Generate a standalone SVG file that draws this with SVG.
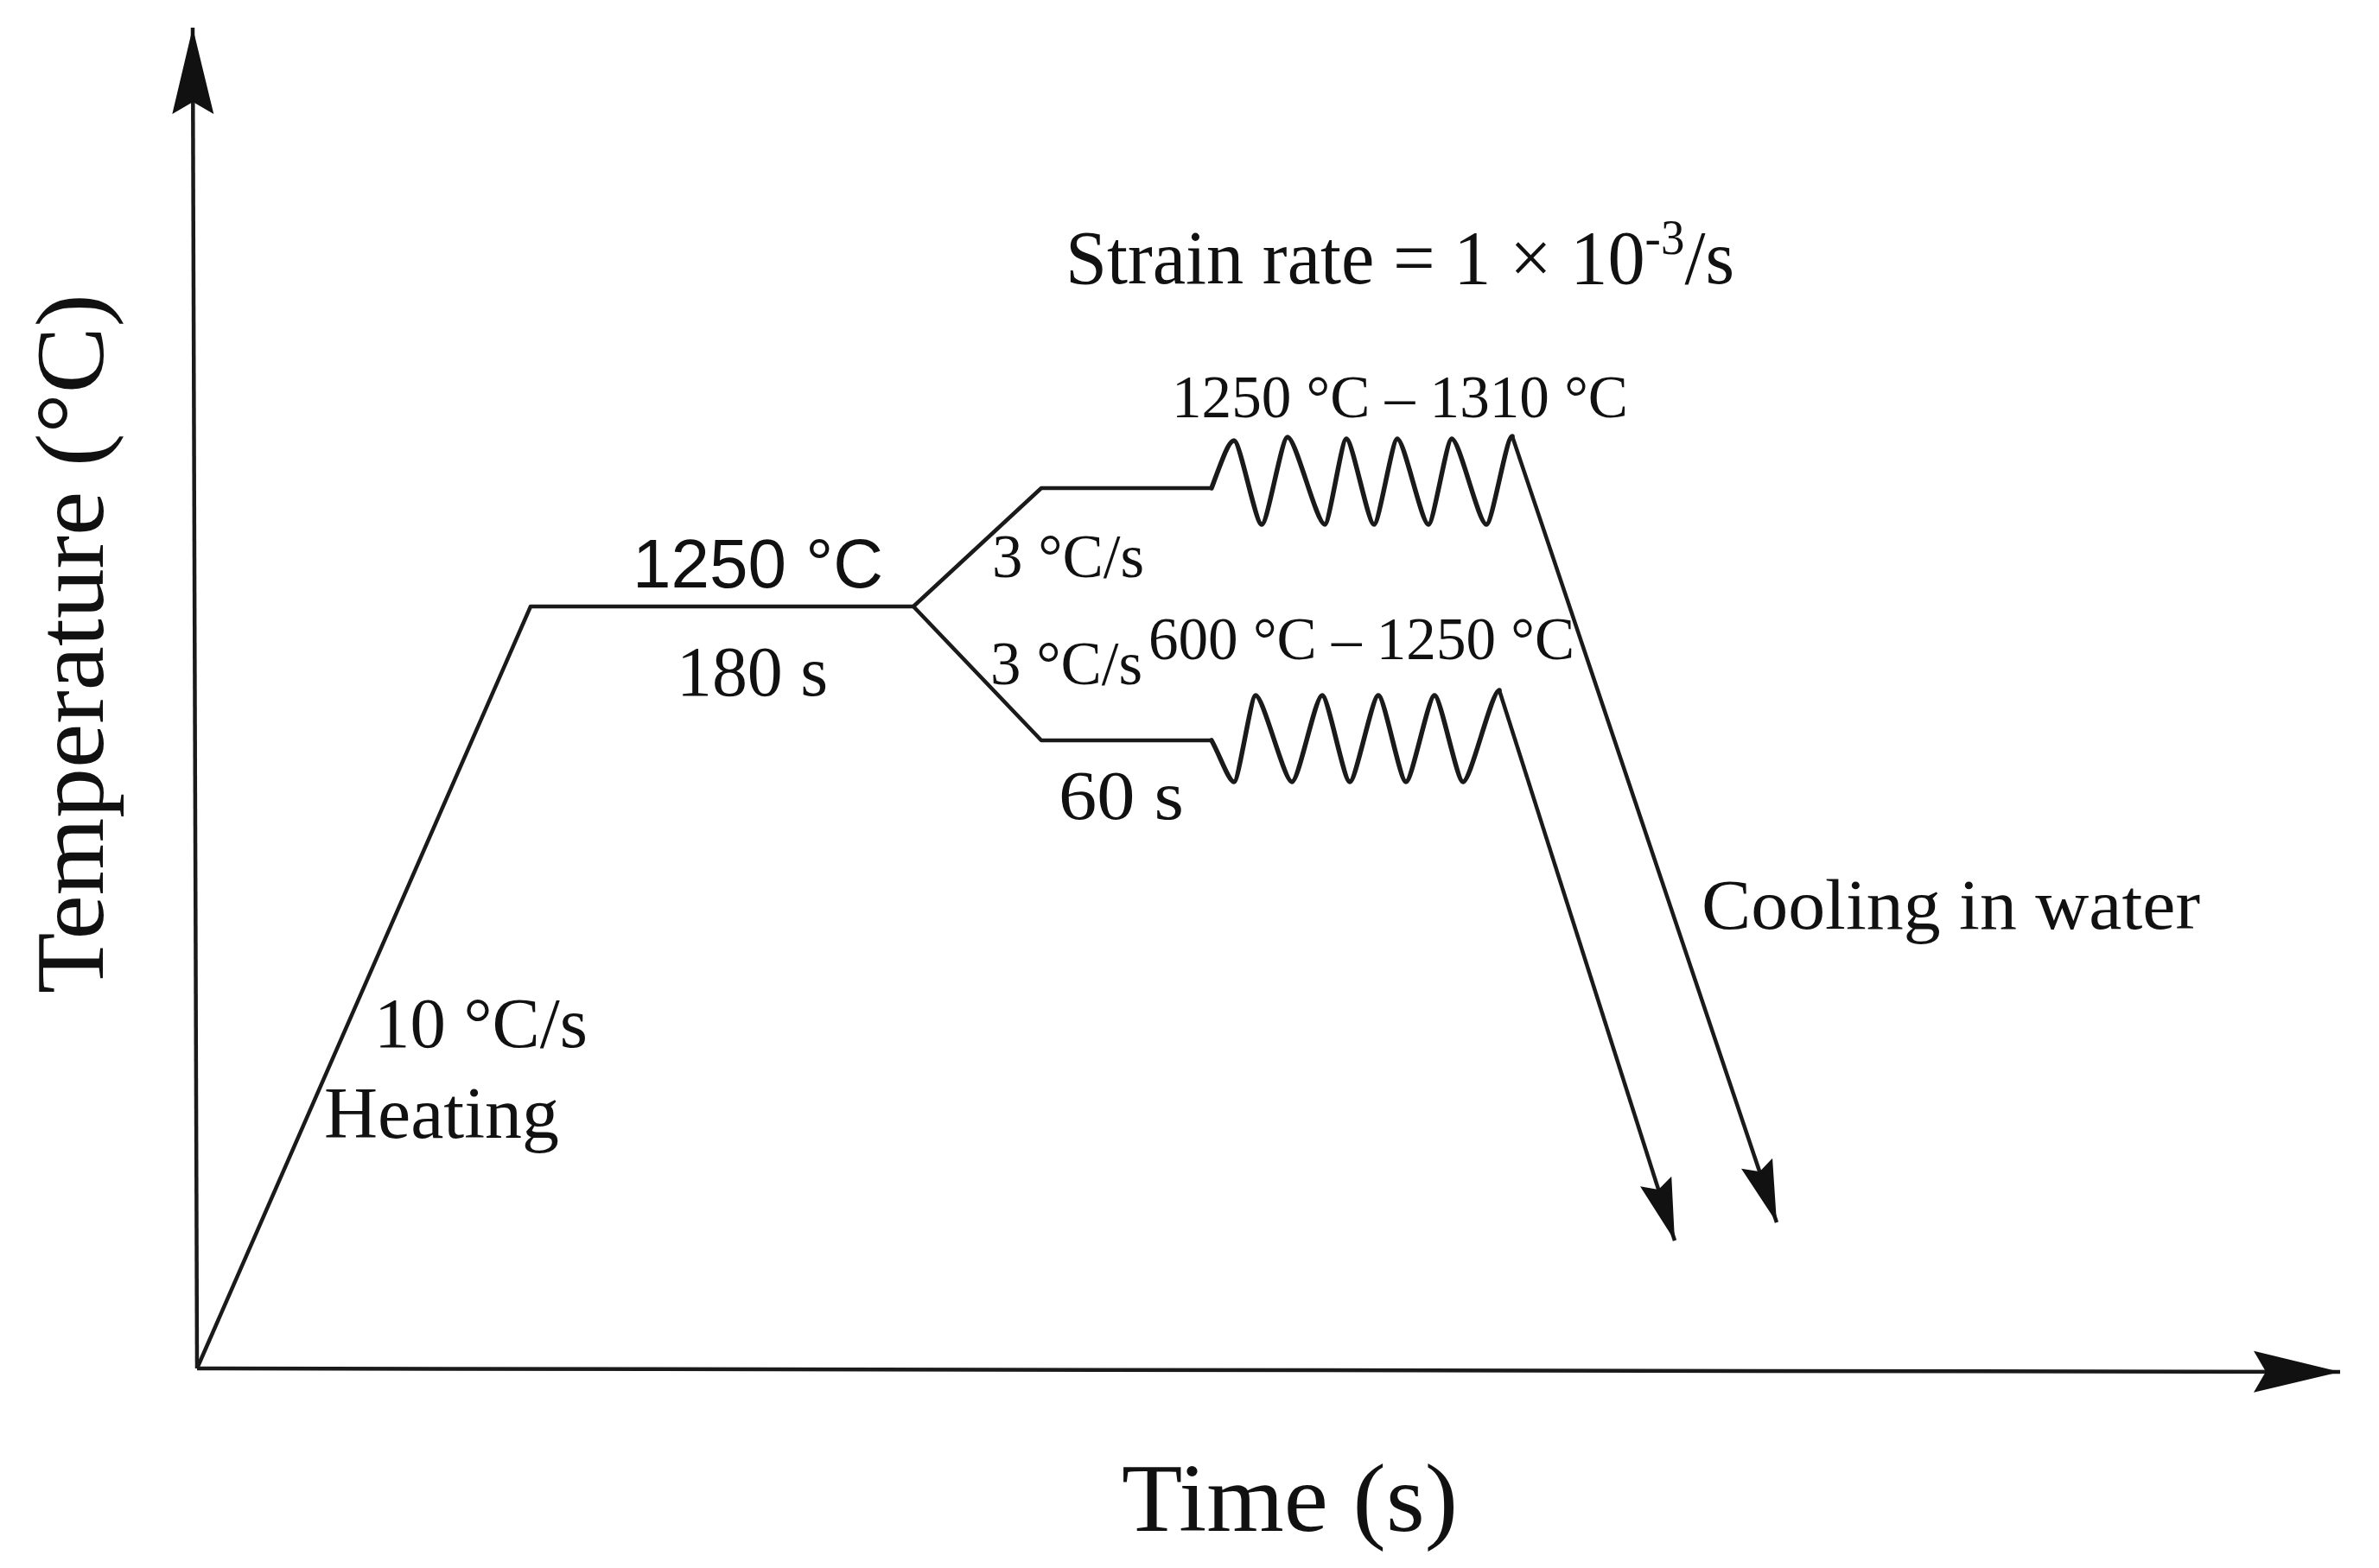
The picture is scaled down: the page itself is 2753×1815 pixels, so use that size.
<svg xmlns="http://www.w3.org/2000/svg" width="2753" height="1815" viewBox="0 0 2753 1815">
<style>
.ln{fill:none;stroke:#1a1a1a;stroke-width:4.5;stroke-linejoin:round;stroke-linecap:butt}
.wv{fill:none;stroke:#1a1a1a;stroke-width:5.5;stroke-linejoin:round;stroke-linecap:round}
.serif{font-family:"Liberation Serif","Times New Roman",serif;fill:#111}
.sans{font-family:"Liberation Sans",Arial,sans-serif;fill:#111}
</style>
<defs>
<marker id="axisHead" markerUnits="userSpaceOnUse" viewBox="-110 -30 120 60" refX="0" refY="0" markerWidth="120" markerHeight="60" orient="auto">
<path d="M0,0 L-100,-24 L-86,0 L-100,24 Z" fill="#111"/>
</marker>
<marker id="coolHead" markerUnits="userSpaceOnUse" viewBox="-80 -25 90 50" refX="0" refY="0" markerWidth="90" markerHeight="50" orient="auto">
<path d="M0,0 L-72,-19 L-62,0 L-72,19 Z" fill="#111"/>
</marker>
</defs>
<rect width="2753" height="1815" fill="#fff"/>

<g id="axes">
<line class="ln" x1="228" y1="1584" x2="223" y2="32" marker-end="url(#axisHead)"/>
<line class="ln" x1="228" y1="1584" x2="2708" y2="1588" marker-end="url(#axisHead)"/>
</g>

<g id="connectors">
<polyline id="heating-hold" class="ln" points="228,1584 614,702 1057,702"/>
<polyline id="upper-branch" class="ln" points="1057,702 1205,565 1402,565"/>
<polyline id="lower-branch" class="ln" points="1057,702 1205,857 1402,857"/>
<path id="upper-wave" class="wv" d="M1402,565 C1415,530 1422,510 1428,510 C1435,510 1453,607 1460,607 C1467,607 1483,506 1490,506 C1499.5,506 1523.5,607 1533,607 C1538.5,607 1552.5,508 1558,508 C1565,508 1583,607 1590,607 C1596,607 1611,508 1617,508 C1625,508 1645,607 1653,607 C1659,607 1674,508 1680,508 C1689,508 1711,607 1720,607 C1727,607 1743,505 1750,505"/>
<path id="lower-wave" class="wv" d="M1402,857 C1412,875 1422,905 1428,905 C1433.5,905 1447.5,805 1453,805 C1462,805 1486,905 1495,905 C1503,905 1522,805 1530,805 C1537,805 1555,905 1562,905 C1569,905 1588,805 1595,805 C1602,805 1620,905 1627,905 C1634,905 1653,805 1660,805 C1667,805 1686,905 1693,905 C1702,905 1726,799 1735,799"/>
<line id="upper-cool" class="ln" x1="1750" y1="505" x2="2056" y2="1415" marker-end="url(#coolHead)"/>
<line id="lower-cool" class="ln" x1="1735" y1="799" x2="1938" y2="1436" marker-end="url(#coolHead)"/>
</g>

<g id="labels">
<text class="serif" x="1233" y="328" font-size="88" textLength="774" lengthAdjust="spacingAndGlyphs">Strain rate = 1 × 10<tspan font-size="56" dy="-34">-3</tspan><tspan dy="34">/s</tspan></text>
<text class="serif" x="1356" y="483" font-size="70" textLength="528" lengthAdjust="spacingAndGlyphs">1250 °C – 1310 °C</text>
<text class="sans" x="732" y="680" font-size="80" textLength="290" lengthAdjust="spacingAndGlyphs">1250 °C</text>
<text class="serif" x="783" y="805" font-size="82" textLength="175" lengthAdjust="spacingAndGlyphs">180 s</text>
<text class="serif" x="1148" y="668" font-size="72" textLength="176" lengthAdjust="spacingAndGlyphs">3 °C/s</text>
<text class="serif" x="1146" y="792" font-size="72" textLength="176" lengthAdjust="spacingAndGlyphs">3 °C/s</text>
<text class="serif" x="1329" y="763" font-size="70" textLength="493" lengthAdjust="spacingAndGlyphs">600 °C – 1250 °C</text>
<text class="serif" x="1225" y="948" font-size="80" textLength="145" lengthAdjust="spacingAndGlyphs">60 s</text>
<text class="serif" x="1969" y="1075" font-size="83" textLength="577" lengthAdjust="spacingAndGlyphs">Cooling in water</text>
<text class="serif" x="433" y="1212" font-size="83" textLength="247" lengthAdjust="spacingAndGlyphs">10 °C/s</text>
<text class="serif" x="375" y="1317" font-size="85" textLength="272" lengthAdjust="spacingAndGlyphs">Heating</text>
<text class="serif" x="1298" y="1772" font-size="112" textLength="389" lengthAdjust="spacingAndGlyphs">Time (s)</text>
<text class="serif" transform="translate(119,1150) rotate(-90)" x="0" y="0" font-size="113" textLength="810" lengthAdjust="spacingAndGlyphs">Temperature (°C)</text>
</g>
</svg>
